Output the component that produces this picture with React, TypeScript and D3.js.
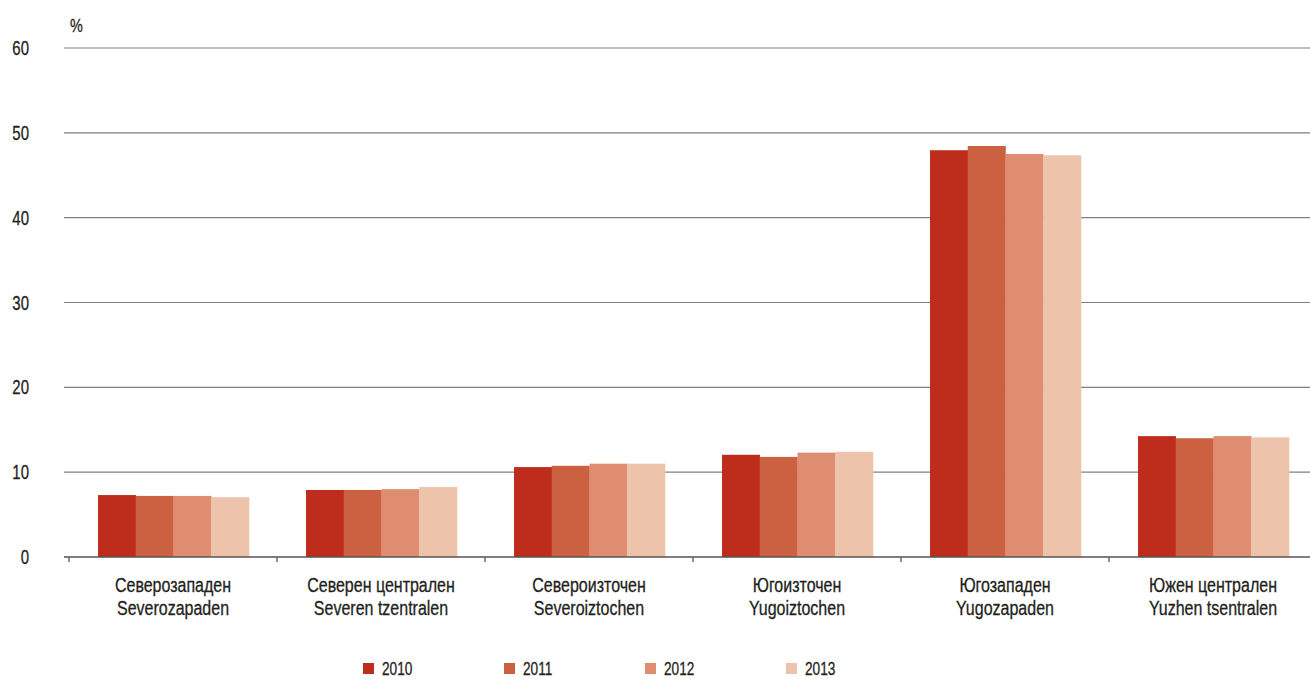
import React from "react";
import * as d3 from "d3";

const categoriesBg = ["Северозападен", "Северен централен", "Североизточен", "Югоизточен", "Югозападен", "Южен централен"];
const categoriesLat = ["Severozapaden", "Severen tzentralen", "Severoiztochen", "Yugoiztochen", "Yugozapaden", "Yuzhen tsentralen"];
const years = ["2010", "2011", "2012", "2013"];
const s2010 = [7.3, 7.9, 10.6, 12.05, 47.95, 14.25];
const s2011 = [7.2, 7.9, 10.75, 11.8, 48.45, 14.0];
const s2012 = [7.2, 8.0, 11.0, 12.3, 47.5, 14.25];
const s2013 = [7.05, 8.25, 11.0, 12.4, 47.35, 14.1];
const yTicks = [0, 10, 20, 30, 40, 50, 60];
const colors = ["#BE2D1B", "#CC6142", "#DF8D70", "#EDC3AC"];

const W = 1310;
const H = 679;
const FONT = "'Liberation Sans', Arial, sans-serif";

function T({ x, y, anchor = "start", size = 20, sx = 0.8, children }: any) {
  return (
    <text
      transform={`translate(${x},${y}) scale(${sx},1)`}
      textAnchor={anchor}
      fontFamily={FONT}
      fontSize={size}
      fill="#231f20"
      stroke="#231f20"
      strokeWidth={0.3}
    >
      {children}
    </text>
  );
}

export default function App() {
  const series = [s2010, s2011, s2012, s2013];
  const x = d3.scaleBand<number>().domain(d3.range(categoriesBg.length)).range([69, 1317]).paddingInner(0).paddingOuter(0);
  const inner = d3.scaleBand<number>().domain(d3.range(years.length)).range([29, 180]);
  const y = d3.scaleLinear().domain([0, 60]).range([557, 48]);
  const gridLeft = 64;

  return (
    <div style={{ position: "fixed", left: 0, top: 0 }}>
      <svg width={W} height={H} style={{ display: "block", background: "#fff" }}>
        {yTicks.map((t) => (
          <g key={t}>
            {t > 0 && (
              <line x1={gridLeft} x2={W} y1={y(t)} y2={y(t)} stroke="#7f7f7f" strokeWidth={1.2} />
            )}
            <T x={29} y={y(t) + 7} anchor="end" sx={0.75}>{t}</T>
          </g>
        ))}
        <T x={70} y={32} size={18}>%</T>
        {categoriesBg.map((c, i) =>
          series.map((s, j) => (
            <rect
              key={`${i}-${j}`}
              x={(x(i) as number) + (inner(j) as number)}
              y={y(s[i])}
              width={inner.bandwidth() + 0.3}
              height={y(0) - y(s[i])}
              fill={colors[j]}
            />
          ))
        )}
        <line x1={gridLeft} x2={W} y1={y(0)} y2={y(0)} stroke="#555" strokeWidth={1.3} />
        {d3.range(categoriesBg.length + 1).map((i) => {
          const xx = 69 + i * x.step();
          return <line key={i} x1={xx} x2={xx} y1={y(0)} y2={y(0) + 5} stroke="#555" strokeWidth={1.3} />;
        })}
        {categoriesBg.map((c, i) => {
          const cx = (x(i) as number) + x.bandwidth() / 2;
          return (
            <g key={c}>
              <T x={cx} y={592} anchor="middle">{c}</T>
              <T x={cx} y={615} anchor="middle">{categoriesLat[i]}</T>
            </g>
          );
        })}
        {years.map((yr, j) => (
          <g key={yr}>
            <rect x={363 + j * 141} y={663} width={11} height={11} fill={colors[j]} />
            <T x={382 + j * 141} y={675} size={19} sx={0.72}>{yr}</T>
          </g>
        ))}
      </svg>
    </div>
  );
}
